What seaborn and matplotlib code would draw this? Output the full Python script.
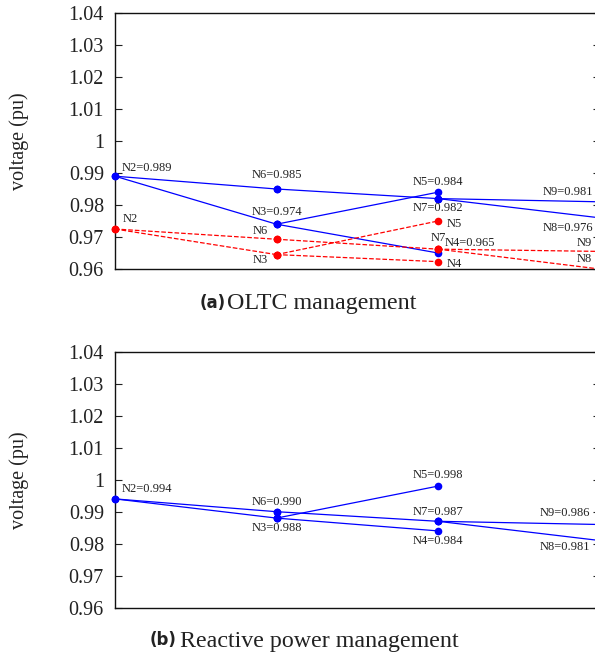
import numpy as np
import pandas as pd
import matplotlib.pyplot as plt
import seaborn as sns

# ── Data ─────────────────────────────────────────────────────────────────────
nodes = ["N2", "N3", "N4", "N5", "N6", "N7", "N8", "N9"]
node_stage = [0, 1, 2, 2, 1, 2, 3, 3]
edges = [("N2", "N3"), ("N2", "N6"), ("N3", "N4"), ("N3", "N5"),
         ("N6", "N7"), ("N7", "N8"), ("N7", "N9")]

# (a) OLTC management: with control (blue) / without (red)
oltc_ctrl = [0.989, 0.974, 0.965, 0.984, 0.985, 0.982, 0.976, 0.981]
oltc_base = [0.9725, 0.9645, 0.9623, 0.975, 0.9693, 0.9662, 0.960, 0.9655]
# (b) Reactive power management
react_ctrl = [0.994, 0.988, 0.984, 0.998, 0.990, 0.987, 0.981, 0.986]

yticks = [0.96, 0.97, 0.98, 0.99, 1.00, 1.01, 1.02, 1.03, 1.04]
ytick_labels = ["0.96", "0.97", "0.98", "0.99", "1", "1.01", "1.02", "1.03", "1.04"]

# ── Label placement (ha, dx px, dy px) ───────────────────────────────────────
lab_a_ctrl = {"N2": ("left", 7, 8), "N3": ("center", 0, 12.5), "N4": ("left", 7, 10),
              "N5": ("center", 0, 10), "N6": ("center", 0, 14), "N7": ("center", 0, -9.5),
              "N8": ("right", -6.5, -10), "N9": ("right", -6.5, 9.5)}
lab_a_base = {"N2": ("left", 8, 10), "N3": ("right", -9, -5), "N4": ("left", 9, -2),
              "N5": ("left", 9, -3), "N6": ("right", -9, 8.5), "N7": ("center", 0, 11),
              "N8": ("right", -8, 10), "N9": ("right", -8, 8)}
lab_b_ctrl = {"N2": ("left", 7, 9.5), "N3": ("center", 0, -10), "N4": ("center", 0, -10),
              "N5": ("center", 0, 11), "N6": ("center", 0, 10), "N7": ("center", 0, 9.5),
              "N8": ("right", -9, -6), "N9": ("right", -9, 11)}

BLUE = "#0000ff"
RED = "#ff0000"
INK = "#222222"

sns.set_style("ticks")
plt.rcParams["font.family"] = ["Liberation Serif", "DejaVu Serif"]


def segments(values):
    rows = []
    for k, (a, b) in enumerate(edges):
        for n in (a, b):
            i = nodes.index(n)
            rows.append({"edge": k, "stage": node_stage[i], "v": values[i]})
    return pd.DataFrame(rows)


def draw(ax, values, color, ls, labels, with_value):
    sns.lineplot(data=segments(values), x="stage", y="v", units="edge",
                 estimator=None, color=color, linestyle=ls, lw=0.9,
                 marker="o", markersize=5.5, markeredgewidth=0,
                 clip_on=False, legend=False, ax=ax, zorder=3)
    for n, v in zip(nodes, values):
        ha, dx, dy = labels[n]
        txt = f"{n}={v:.3f}" if with_value else n
        ax.annotate(txt, xy=(node_stage[nodes.index(n)], v), xytext=(dx, dy),
                    textcoords="offset pixels", ha=ha, va="center",
                    fontsize=9, color=INK, annotation_clip=False)


def style_axes(ax):
    ax.set_xlim(0, 3)
    ax.set_ylim(0.96, 1.04)
    ax.set_yticks(yticks)
    ax.set_yticklabels(ytick_labels, fontsize=14.5)
    ax.set_xticks([])
    ax.set_xlabel("")
    ax.set_ylabel("voltage (pu)", fontsize=14.5, color=INK)
    ax.yaxis.set_label_coords(-0.178, 0.5)
    ax.tick_params(axis="y", direction="in", length=5, width=0.8,
                   right=True, pad=8, colors=INK)
    for s in ax.spines.values():
        s.set_linewidth(1.0)
        s.set_color("#111111")


W, H = 595, 657
fig = plt.figure(figsize=(W / 100, H / 100), dpi=100)
left = 115 / W
width = 484.5 / W
ax_a = fig.add_axes([left, 1 - 269 / H, width, 256 / H])
ax_b = fig.add_axes([left, 1 - 607.7 / H, width, 256 / H])

draw(ax_a, oltc_ctrl, BLUE, "-", lab_a_ctrl, True)
draw(ax_a, oltc_base, RED, "--", lab_a_base, False)
draw(ax_b, react_ctrl, BLUE, "-", lab_b_ctrl, True)
style_axes(ax_a)
style_axes(ax_b)

# captions
fig.text(200 / W, 1 - 303 / H, "(a)", family="DejaVu Sans", fontweight="bold",
         fontsize=12, ha="left", va="center", color=INK)
fig.text(227 / W, 1 - 304 / H, "OLTC management", fontsize=17.3,
         ha="left", va="center", color=INK)
fig.text(150 / W, 1 - 640 / H, "(b)", family="DejaVu Sans", fontweight="bold",
         fontsize=12, ha="left", va="center", color=INK)
fig.text(180 / W, 1 - 641 / H, "Reactive power management", fontsize=17.3,
         ha="left", va="center", color=INK)

fig.savefig("out.png", dpi=100)
